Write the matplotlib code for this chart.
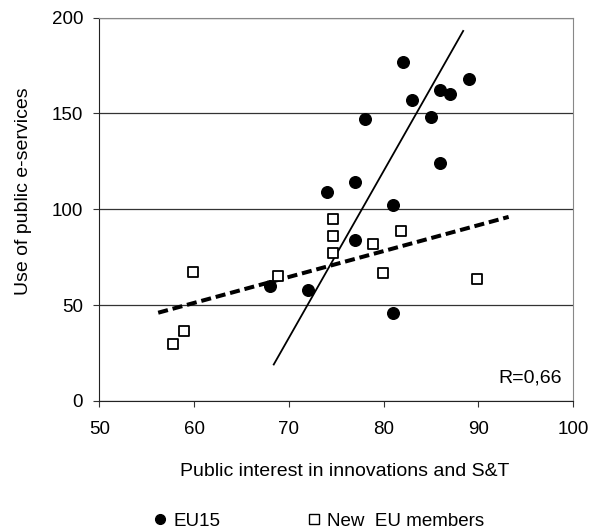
import matplotlib
matplotlib.use("Agg")
import matplotlib.pyplot as plt
from matplotlib.lines import Line2D

plt.rcParams['font.family'] = ['Liberation Sans', 'DejaVu Sans']

# EU15 countries
eu15_x = [82, 89, 86, 87, 83, 78, 85, 86, 77, 74, 81, 77, 68, 72, 81]
eu15_y = [177, 168, 162, 160, 157, 147, 148, 124, 114, 109, 102, 84, 60, 58, 46]

# new member states
new_x = [74.7, 74.7, 81.8, 78.9, 74.7, 59.9, 68.8, 79.9, 89.9, 58.9, 57.8]
new_y = [95, 86, 88.5, 82, 77, 67.3, 65.2, 66.6, 63.8, 36.7, 29.7]

# trend lines (end points)
eu15_trend_x = [68.4, 88.4]
eu15_trend_y = [19, 193]
new_trend_x = [56.2, 93.2]
new_trend_y = [46, 96]

fig = plt.figure(figsize=(5.92, 5.31), dpi=100)
ax = fig.add_axes([0.168, 0.245, 0.8, 0.722])

ax.plot(eu15_trend_x, eu15_trend_y, color='black', lw=1.3, zorder=3)
ax.plot(new_trend_x, new_trend_y, color='black', lw=2.9, ls=(0, (2.5, 1.2)), zorder=3)
ax.scatter(eu15_x, eu15_y, s=70, color='black', marker='o', zorder=4)
ax.scatter(new_x, new_y, s=60, facecolor='white', edgecolor='black', marker='s', lw=1.3, zorder=4)

ax.set_xlim(50, 100)
ax.set_ylim(0, 200)
ax.set_xticks([50, 60, 70, 80, 90, 100])
ax.set_yticks([0, 50, 100, 150, 200])
ax.yaxis.grid(True, color='#333333', lw=0.9)
ax.set_axisbelow(True)
for s in ['top', 'right']:
    ax.spines[s].set_color('#888888')
for s in ['left', 'bottom']:
    ax.spines[s].set_color('#222222')
ax.tick_params(labelsize=13.5, length=4.3, color='#333333')
ax.tick_params(axis='x', pad=10)
ax.tick_params(axis='y', pad=7.5)

ax.set_xlabel("Public interest in innovations and S&T", fontsize=14)
ax.set_ylabel("Use of public e-services", fontsize=14)
ax.xaxis.set_label_coords(0.517, -0.161)
ax.yaxis.set_label_coords(-0.143, 0.547)
ax.text(98.8, 12, "R=0,66", ha='right', va='center', fontsize=14)

handles = [
    Line2D([], [], ls='none', marker='o', color='black', markersize=7),
    Line2D([], [], ls='none', marker='s', markerfacecolor='white', markeredgecolor='black',
           markersize=6.5),
]
fig.legend(handles, ["EU15", "New  EU members"], loc='lower center', bbox_to_anchor=(0.536, -0.03),
           ncol=2, frameon=False, fontsize=13.5, handletextpad=0.2, columnspacing=4.5, handlelength=1)

plt.savefig("out.png", dpi=100)
